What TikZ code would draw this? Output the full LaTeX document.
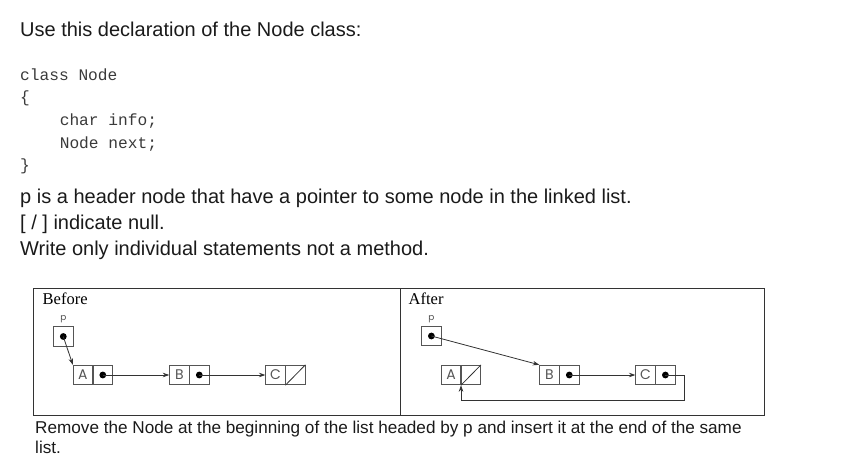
\documentclass[tikz,border=0pt]{standalone}
\usepackage{fontspec}
\setmainfont{Liberation Sans}
\newfontfamily\codefont{Liberation Mono}
\newfontfamily\timesfont{Liberation Serif}
\newfontfamily\geofont{Poppins}
\usetikzlibrary{arrows.meta,positioning}
\definecolor{txt}{HTML}{1A1A1A}
\definecolor{codec}{HTML}{3A3A3A}
\definecolor{ln}{HTML}{333333}
\definecolor{cellc}{HTML}{555555}
\tikzset{
  txtline/.style={anchor=base west, inner sep=0pt, text=txt, font=\fontsize{20}{24}\selectfont},
  codeline/.style={anchor=base west, inner sep=0pt, text=codec, font=\codefont\fontsize{16.2}{19}\selectfont},
  captionline/.style={anchor=base west, inner sep=0pt, text=txt, font=\fontsize{17.15}{20}\selectfont},
  paneltitle/.style={anchor=base west, inner sep=0pt, text=black, font=\timesfont\fontsize{16.5}{20}\selectfont},
  frame/.style={draw=ln, line width=0.9pt},
  cell/.style={draw=cellc, line width=0.8pt, minimum width=19.2pt, minimum height=19.6pt, inner sep=0pt, text=cellc, font=\geofont\fontsize{14}{16}\selectfont},
  pbox/.style={draw=cellc, line width=0.8pt, minimum width=19.6pt, minimum height=19.6pt, inner sep=0pt},
  plabel/.style={inner sep=0pt, text=cellc, font=\geofont\fontsize{9}{10}\selectfont},
  ptr/.style={draw=ln, line width=0.8pt, -{Stealth[length=6.5pt,width=4.5pt]}},
  nullslash/.style={draw=ln, line width=0.8pt},
  dotc/.style={fill=black},
}
\begin{document}
\begin{tikzpicture}[x=1pt,y=-1pt]
\useasboundingbox (0,0) rectangle (848,471);
% header text
\node[txtline] (t1) at (20,36) {Use this declaration of the Node class:};
\node[codeline] (c1) at (20,80) {class Node};
\node[codeline] (c2) at (20,102.7) {\{};
\node[codeline] (c3) at (59.6,125.3) {char info;};
\node[codeline] (c4) at (59.6,148) {Node next;};
\node[codeline] (c5) at (20,170.6) {\}};
\node[txtline] (t2) at (20,203.3) {p is a header node that have a pointer to some node in the linked list.};
\node[txtline] (t3) at (20,229.3) {[ / ] indicate null.};
\node[txtline] (t4) at (20,255.3) {Write only individual statements not a method.};
% frames
\draw[frame] (33.5,288.5) rectangle (400,415.5);
\draw[frame] (400,288.5) rectangle (764.5,415.5);
\node[paneltitle] (before) at (42.5,304) {Before};
\node[paneltitle] (after) at (408.5,304) {After};
% ---------- Before ----------
\node[pbox] (bp) at (63.3,336.5) {};
\node[plabel, above=3.2pt of bp] (bpl) {p};
\node[cell] (bA) at (82.8,375) {A};
\node[cell, right=0pt of bA] (bAn) {};
\node[cell] (bB) at (179.3,375) {B};
\node[cell, right=0pt of bB] (bBn) {};
\node[cell] (bC) at (275.4,375) {C};
\node[cell, right=0pt of bC] (bCn) {};
\fill[dotc] (bp.center) circle (3.4pt);
\fill[dotc] (bAn.center) circle (3.4pt);
\fill[dotc] (bBn.center) circle (3.4pt);
\draw[ptr] (bp.center) -- (bA.north west);
\draw[ptr] (bAn.center) -- (bB.west);
\draw[ptr] (bBn.center) -- (bC.west);
\draw[nullslash] (bCn.south west) -- (bCn.north east);
% ---------- After ----------
\node[pbox] (ap) at (431.4,336) {};
\node[plabel, above=3.2pt of ap] (apl) {p};
\node[cell] (aA) at (451,375) {A};
\node[cell, right=0pt of aA] (aAn) {};
\node[cell] (aB) at (549.3,375) {B};
\node[cell, right=0pt of aB] (aBn) {};
\node[cell] (aC) at (645.4,375) {C};
\node[cell, right=0pt of aC] (aCn) {};
\coordinate (loop) at (684.3,400.7);
\fill[dotc] (ap.center) circle (3.4pt);
\fill[dotc] (aBn.center) circle (3.4pt);
\fill[dotc] (aCn.center) circle (3.4pt);
\draw[nullslash] (aAn.south west) -- (aAn.north east);
\draw[ptr] (ap.center) -- (aB.north west);
\draw[ptr] (aBn.center) -- (aC.west);
\draw[ptr] (aCn.center) -| (loop) -| (aAn.south west);
% caption
\node[captionline] (cap1) at (35,433) {Remove the Node at the beginning of the list headed by p and insert it at the end of the same};
\node[captionline] (cap2) at (35,453) {list.};
\end{tikzpicture}
\end{document}
